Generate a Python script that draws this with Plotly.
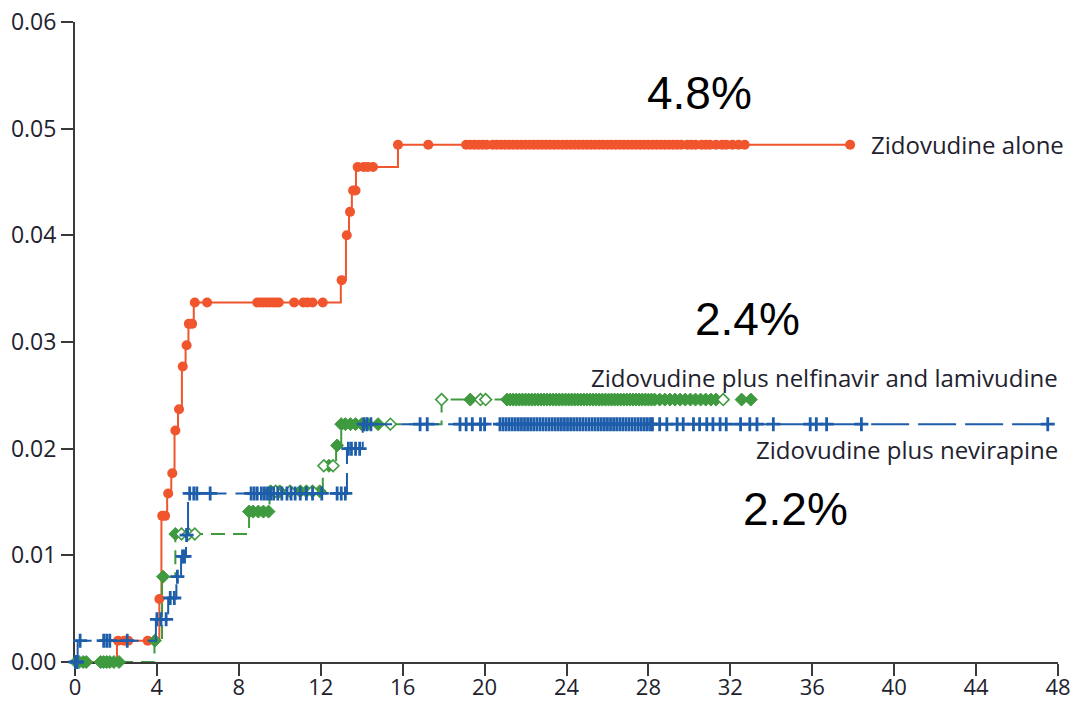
import plotly.graph_objects as go

# ---- Cumulative incidence step data (months, proportion) ----
# Zidovudine alone
zdv_step_t = [0, 2.05, 4.12, 4.22, 4.5, 4.7, 4.86, 5.03, 5.22, 5.4, 5.54, 5.8,
              12.98, 13.23, 13.38, 13.52, 13.72, 15.77]
zdv_step_v = [0, 0.0020, 0.0059, 0.0137, 0.0158, 0.0177, 0.0217, 0.0237, 0.0277,
              0.0297, 0.0317, 0.0337, 0.0358, 0.0400, 0.0422, 0.0442, 0.0464, 0.0485]
zdv_end = 37.85
zdv_censor = [2.1, 2.4, 2.6, 3.55, 4.12, 4.26, 4.4, 4.55, 4.75, 4.9, 5.08, 5.26, 5.45,
              5.56, 5.72, 5.85, 6.45, 8.9, 9.05, 9.2, 9.35, 9.5, 9.65, 9.8, 9.95,
              10.7, 11.15, 11.35, 11.6, 12.1, 13.02, 13.27, 13.43, 13.58, 13.7, 13.8,
              14.1, 14.3, 14.55, 15.77, 17.25,
              19.1, 19.3, 19.5, 19.7, 19.9, 20.1, 20.4, 20.6, 20.8, 21.0, 21.2, 21.4,
              21.6, 21.8, 22.0, 22.2, 22.4, 22.6, 22.8, 23.0, 23.2, 23.4, 23.6, 23.8,
              24.0, 24.2, 24.4, 24.6, 24.8, 25.0, 25.2, 25.4, 25.6, 25.8, 26.0, 26.2,
              26.4, 26.6, 26.8, 27.0, 27.2, 27.4, 27.6, 27.8, 28.0, 28.2, 28.4, 28.6,
              28.8, 29.0, 29.2, 29.4, 29.6, 29.9, 30.1, 30.3, 30.6, 30.8, 31.0, 31.3,
              31.6, 31.8, 32.1, 32.4, 32.7, 37.85]

# Zidovudine plus nevirapine
nvp_step_t = [0, 0.13, 3.95, 4.55, 4.95, 5.18, 5.42, 5.52, 13.28, 14.05]
nvp_step_v = [0, 0.0020, 0.0040, 0.0060, 0.0080, 0.0099, 0.0119, 0.0158, 0.0200, 0.0223]
nvp_end = 47.5
nvp_censor = [0.02, 0.1, 0.25, 1.4, 1.55, 1.7, 2.55, 4.0, 4.2, 4.45, 4.65, 4.85, 5.0,
              5.25, 5.35, 5.45, 5.6, 5.8, 5.95, 6.6, 8.6, 8.75, 8.9, 9.1, 9.25, 9.4,
              9.55, 9.7, 9.9, 10.1, 10.35, 10.55, 10.75, 11.0, 11.3, 11.6, 12.05,
              12.8, 13.0, 13.2, 13.35, 13.5, 13.7, 13.9, 14.1, 14.25, 14.45, 16.85,
              17.2, 18.8, 19.1, 19.4, 19.8, 20.0,
              20.75, 20.9, 21.05, 21.2, 21.35, 21.5, 21.65, 21.8, 21.95, 22.1, 22.25,
              22.4, 22.55, 22.7, 22.85, 23.0, 23.15, 23.3, 23.45, 23.6, 23.75, 23.9,
              24.05, 24.2, 24.35, 24.5, 24.65, 24.8, 24.95, 25.1, 25.25, 25.4, 25.55,
              25.7, 25.85, 26.0, 26.15, 26.3, 26.45, 26.6, 26.75, 26.9, 27.05, 27.2,
              27.35, 27.5, 27.65, 27.8, 27.95, 28.1, 28.2,
              28.55, 28.9, 29.4, 29.7, 30.2, 30.5, 30.85, 31.15, 31.5, 31.8, 32.5,
              32.95, 33.3, 34.1, 35.9, 36.2, 36.7, 38.4, 47.5]

# Zidovudine plus nelfinavir and lamivudine
nfv_step_t = [0, 3.88, 4.25, 4.9, 8.5, 9.5, 12.1, 12.75, 13.0, 17.9]
nfv_step_v = [0, 0.0020, 0.0080, 0.0120, 0.0141, 0.0160, 0.0184, 0.0203, 0.0223, 0.0246]
nfv_end = 33.3
nfv_censor_solid = [0.05, 0.2, 0.4, 0.55, 1.25, 1.4, 1.55, 1.7, 1.9, 2.15, 3.9, 4.3,
                    4.9, 8.5, 8.7, 8.95, 9.2, 9.45, 9.55, 10.0, 11.0, 11.3, 11.95,
                    12.4, 12.8, 13.0, 13.2, 13.45, 13.7, 14.0, 14.3, 14.8, 19.3,
                    21.1, 21.25, 21.4, 21.55, 21.7, 21.85, 22.0, 22.15, 22.3, 22.45,
                    22.6, 22.75, 22.9, 23.05, 23.2, 23.35, 23.5, 23.65, 23.8, 23.95,
                    24.1, 24.25, 24.4, 24.55, 24.7, 24.85, 25.0, 25.15, 25.3, 25.45,
                    25.6, 25.75, 25.9, 26.05, 26.2, 26.35, 26.5, 26.65, 26.8, 26.95,
                    27.1, 27.25, 27.4, 27.55, 27.7, 27.85, 28.0, 28.15, 28.3,
                    28.55, 28.8, 29.05, 29.3, 29.55, 29.8, 30.05, 30.3, 30.55, 30.8,
                    31.05, 31.3, 32.55, 33.0]
nfv_censor_open = [5.2, 5.55, 5.85, 9.8, 10.5, 11.6, 12.15, 12.6, 15.4, 17.9, 19.8,
                   20.05, 31.65]

x_ticks = [0, 4, 8, 12, 16, 20, 24, 28, 32, 36, 40, 44, 48]
y_ticks = [0.00, 0.01, 0.02, 0.03, 0.04, 0.05, 0.06]
y_tick_text = ["0.00", "0.01", "0.02", "0.03", "0.04", "0.05", "0.06"]

ORANGE = "#F0552D"
BLUE = "#1D5DAA"
GREEN = "#3F9A3F"
TEXT = "#22222E"
AXIS = "#3A3A3A"


def level_at(step_t, step_v, t):
    v = step_v[0]
    for tt, vv in zip(step_t, step_v):
        if t >= tt:
            v = vv
    return v


def curve(step_t, step_v, end, color, dash):
    return go.Scatter(
        x=step_t + [end], y=step_v + [step_v[-1]], mode="lines",
        line=dict(color=color, width=2, shape="hv", dash=dash),
        cliponaxis=False, hoverinfo="skip", showlegend=False)


def marks(times, step_t, step_v, marker):
    return go.Scatter(
        x=times, y=[level_at(step_t, step_v, t) for t in times], mode="markers",
        marker=marker, cliponaxis=False, hoverinfo="skip", showlegend=False)


fig = go.Figure()

fig.add_trace(curve(zdv_step_t, zdv_step_v, zdv_end, ORANGE, "solid"))
fig.add_trace(marks(zdv_censor, zdv_step_t, zdv_step_v,
                    dict(symbol="circle", size=10, color=ORANGE)))

fig.add_trace(curve(nfv_step_t, nfv_step_v, nfv_end, GREEN, "14px,8px"))
fig.add_trace(marks(nfv_censor_solid, nfv_step_t, nfv_step_v,
                    dict(symbol="diamond", size=10, color=GREEN,
                         line=dict(color=GREEN, width=1))))
fig.add_trace(marks(nfv_censor_open, nfv_step_t, nfv_step_v,
                    dict(symbol="diamond", size=9, color="white",
                         line=dict(color=GREEN, width=1.6))))

fig.add_trace(curve(nvp_step_t, nvp_step_v, nvp_end, BLUE, "38px,9px"))
fig.add_trace(marks(nvp_censor, nvp_step_t, nvp_step_v,
                    dict(symbol="cross-thin", size=10, color=BLUE,
                         line=dict(color=BLUE, width=2.8))))

series_font = dict(family="Open Sans, DejaVu Sans", size=24, color=TEXT)
pct_font = dict(family="Liberation Sans, Arial", size=46, color="black")

# Curve labels (right-hand ones are anchored to the plot's right edge)
fig.add_annotation(x=38.75, y=0.0485, text="Zidovudine alone", xanchor="left",
                   yanchor="middle", showarrow=False, font=series_font)
fig.add_annotation(xref="paper", x=1.002, y=0.0267,
                   text="Zidovudine plus nelfinavir and lamivudine",
                   xanchor="right", yanchor="middle", showarrow=False, font=series_font)
fig.add_annotation(xref="paper", x=1.002, y=0.0199, text="Zidovudine plus nevirapine",
                   xanchor="right", yanchor="middle", showarrow=False, font=series_font)

fig.add_annotation(x=30.5, y=0.0533, text="4.8%", showarrow=False, font=pct_font)
fig.add_annotation(x=32.85, y=0.0322, text="2.4%", showarrow=False, font=pct_font)
fig.add_annotation(x=35.2, y=0.0143, text="2.2%", showarrow=False, font=pct_font)

axis_common = dict(showgrid=False, zeroline=False, showline=True, linecolor=AXIS,
                   linewidth=2, ticks="outside", ticklen=12, tickwidth=2,
                   tickcolor=AXIS, layer="below traces", automargin=False)
tick_font = dict(family="Open Sans, DejaVu Sans", size=22, color=TEXT)

fig.update_layout(
    width=1075, height=703,
    margin=dict(l=75, r=17, t=22, b=41, autoexpand=False),
    paper_bgcolor="white", plot_bgcolor="white",
    showlegend=False,
    xaxis=dict(range=[0, 48], tickvals=x_ticks, tickfont=tick_font,
               ticklabelstandoff=-7, **axis_common),
    yaxis=dict(range=[0, 0.06], tickvals=y_ticks, ticktext=y_tick_text,
               tickfont=dict(family="Open Sans, DejaVu Sans", size=23, color=TEXT),
               **axis_common),
)

fig.write_html("out.html")
